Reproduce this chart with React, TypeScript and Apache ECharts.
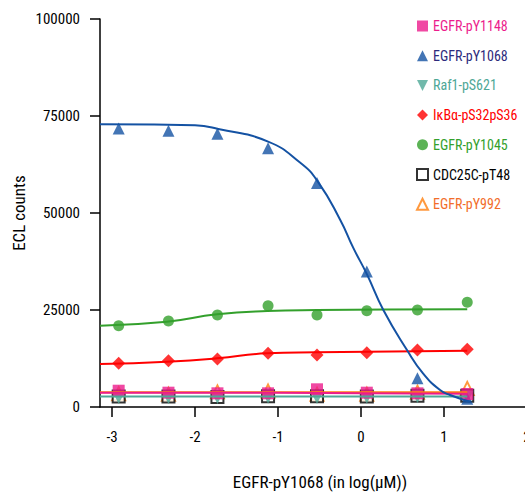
import React, { useEffect, useRef } from "react";
import * as echarts from "echarts";

const FONT = "Roboto";

// log concentrations of the measured points
const logConc = [-2.92, -2.32, -1.73, -1.12, -0.53, 0.07, 0.68, 1.28];

// measured ECL counts
const pY1148 = [4200, 3690, 3530, 3530, 4560, 3690, 3530, 3350];
const pY1068 = [71800, 71200, 70400, 66700, 57700, 34900, 7400, 2100];
const raf1 = [2300, 2300, 2300, 2400, 2300, 2400, 2500, 2600];
const ikba = [11260, 11930, 12370, 13840, 13400, 14000, 14690, 14870];
const pY1045 = [20950, 22160, 23710, 26110, 23710, 24820, 25000, 26980];
const cdc25c = [2700, 2700, 2600, 2800, 2800, 2700, 2900, 2900];
const pY992 = [3400, 3300, 3900, 4100, 3300, 3300, 3800, 4800];

// fitted curves: [x, y]
const fitPY1068 = [
  [-3.145, 72900], [-2.49, 72800], [-2.0, 72600], [-1.72, 71650], [-1.12, 68400],
  [-0.735, 63000], [-0.52, 58100], [-0.25, 48200], [-0.093, 41000], [0.069, 34300],
  [0.269, 25000], [0.554, 14690], [0.747, 8680], [0.952, 4380], [1.072, 3090], [1.313, 1370],
];
const fitPY1045 = [[-3.145, 20950], [-2.34, 21980], [-1.735, 23890], [-1.13, 24740], [-0.53, 25000], [0.3, 25100], [1.28, 25180]];
const fitIkba = [[-3.145, 11080], [-2.34, 11680], [-1.735, 12550], [-1.13, 13840], [-0.53, 14100], [0.07, 14250], [1.28, 14510]];
const fitPY1148 = [[-3.145, 3700], [-1.0, 3650], [0.0, 3550], [1.28, 3400]];
const fitPY992 = [[-3.145, 3800], [1.28, 3800]];
const fitRaf1 = [[-3.145, 2700], [1.28, 2700]];

const xTicks = [-3, -2, -1, 0, 1, 2];

const C = {
  pink: "#ec1c8c",
  blue: "#1452a3",
  blueText: "#2d2a7c",
  teal: "#4ea796",
  red: "#ff0000",
  green: "#33a02c",
  black: "#000000",
  orange: "#ff7f0e",
  orangeText: "#f26d2a",
};

const pts = (ys: number[]) => ys.map((v, i) => [logConc[i], v]);

export default function App() {
  const ref = useRef<HTMLDivElement>(null);
  useEffect(() => {
    if (!ref.current) return;
    const chart = echarts.init(ref.current, undefined, { renderer: "svg" });
    const fit = (name: string, data: number[][], color: string) => ({
      name,
      type: "line",
      data,
      smooth: 0.5,
      showSymbol: false,
      symbol: "none",
      lineStyle: { color, width: 2 },
      silent: true,
    });
    const sc = (name: string, data: number[], symbol: string, color: string, size: number, extra: any = {}) => ({
      name,
      type: "scatter",
      data: pts(data),
      symbol,
      symbolSize: size,
      itemStyle: { color, ...(extra.itemStyle || {}) },
    });
    const option: any = {
      animation: false,
      textStyle: { fontFamily: FONT },
      grid: { left: 100, top: 19, bottom: 86, right: -2, outerBoundsMode: "none", containLabel: false },
      xAxis: {
        type: "value",
        min: -3.145,
        max: 2,
        name: "EGFR-pY1068 (in log(\u03bcM))",
        nameLocation: "middle",
        nameGap: 66,
        nameMoveOverlap: false,
        nameTextStyle: { fontSize: 17, color: "#000", fontFamily: FONT, padding: [0, 0, 0, 13] },
        axisLine: { onZero: false, lineStyle: { color: "#000", width: 1.5 } },
        axisTick: { show: true, length: 10, customValues: xTicks, lineStyle: { color: "#000", width: 1.5 } },
        axisLabel: { customValues: xTicks, margin: 22, fontSize: 15, color: "#000", fontFamily: FONT },
        splitLine: { show: false },
      },
      yAxis: {
        type: "value",
        min: 0,
        max: 100000,
        interval: 25000,
        name: "ECL counts",
        nameLocation: "middle",
        nameGap: 73,
        nameMoveOverlap: false,
        nameTextStyle: { fontSize: 17, color: "#000", fontFamily: FONT },
        axisLine: { show: true, onZero: false, lineStyle: { color: "#000", width: 1.5 } },
        axisTick: { show: true, length: 10, lineStyle: { color: "#000", width: 1.5 } },
        axisLabel: { margin: 20, fontSize: 15, color: "#000", fontFamily: FONT, formatter: (v: number) => String(v) },
        splitLine: { show: false },
      },
      legend: {
        orient: "vertical",
        left: 411,
        top: 14,
        itemWidth: 11,
        itemHeight: 11,
        itemGap: 15.7,
        textStyle: { fontSize: 14, fontFamily: FONT, lineHeight: 14 },
        data: [
          { name: "EGFR-pY1148", icon: "rect", textStyle: { color: C.pink } },
          { name: "EGFR-pY1068", icon: "triangle", textStyle: { color: C.blueText } },
          { name: "Raf1-pS621", icon: "path://M0,0L10,0L5,10Z", textStyle: { color: C.teal } },
          { name: "I\u03baB\u03b1-pS32pS36", icon: "diamond", textStyle: { color: C.red } },
          { name: "EGFR-pY1045", icon: "circle", textStyle: { color: C.green } },
          { name: "CDC25C-pT48", icon: "emptyRect", textStyle: { color: C.black } },
          { name: "EGFR-pY992", icon: "emptyTriangle", textStyle: { color: C.orangeText } },
        ],
      },
      series: [
        fit("fit-raf1", fitRaf1, C.teal),
        fit("fit-pY992", fitPY992, C.orange),
        fit("fit-pY1148", fitPY1148, C.pink),
        fit("fit-ikba", fitIkba, C.red),
        fit("fit-pY1045", fitPY1045, C.green),
        fit("fit-pY1068", fitPY1068, C.blue),
        sc("EGFR-pY992", pY992, "emptyTriangle", C.orange, 13, { itemStyle: { borderWidth: 1.5 } }),
        sc("CDC25C-pT48", cdc25c, "emptyRect", C.black, 12, { itemStyle: { borderWidth: 1.5 } }),
        sc("Raf1-pS621", raf1, "path://M0,0L10,0L5,10Z", C.teal, 12),
        sc("I\u03baB\u03b1-pS32pS36", ikba, "diamond", C.red, 13),
        sc("EGFR-pY1045", pY1045, "circle", C.green, 11),
        sc("EGFR-pY1068", pY1068, "triangle", C.blue, 12),
        sc("EGFR-pY1148", pY1148, "rect", C.pink, 12),
      ],
    };
    chart.setOption(option);
    return () => chart.dispose();
  }, []);
  return (
    <div style={{ position: "absolute", left: 0, top: 0, width: 525, height: 493, overflow: "hidden", background: "#fff" }}>
      <style>{`#chart svg text { font-stretch: 75% !important; }`}</style>
      <div id="chart" ref={ref} style={{ width: 525, height: 493 }} />
    </div>
  );
}
